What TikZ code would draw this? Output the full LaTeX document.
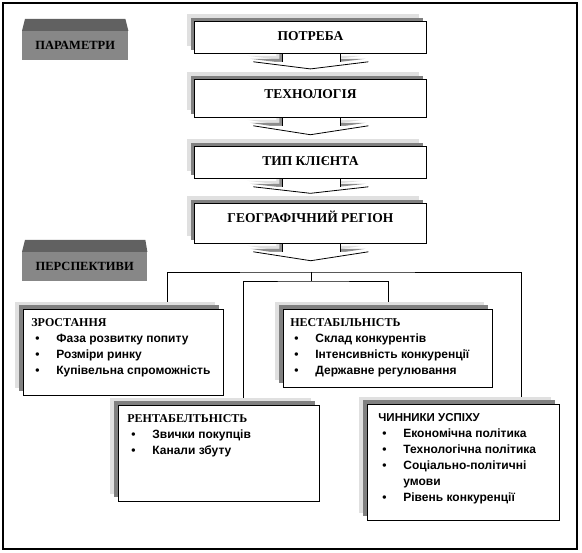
\documentclass[tikz,border=0pt]{standalone}
\usepackage{fontspec}
\setmainfont{Liberation Serif}
\setsansfont{Liberation Sans}
\usetikzlibrary{calc,shadows,backgrounds}

% bullet line inside a list box
\newcommand{\itm}[1]{\par\hangindent=25pt\hangafter=1\noindent\makebox[25pt][l]{\hspace{4pt}\textbullet}#1}
% wide down arrow between two blocks
\newcommand{\flowarrow}[2]{%
  \coordinate (sl) at ([xshift=-28pt]#1.south);
  \coordinate (sr) at ([xshift=30pt]#1.south);
  \coordinate (wl) at ([xshift=-57pt,yshift=-8pt]#1.south);
  \coordinate (wr) at ([xshift=58pt,yshift=-8pt]#1.south);
  \coordinate (tip) at ($(#1.south)!0.6!(#2)$);
  \fill[black!12,transform canvas={xshift=-6pt,yshift=6pt}] (sl) |- (wl) -- (tip) -- (wr) -| (sr) -- cycle;
  \fill[black!45,transform canvas={xshift=-3pt,yshift=3pt}] (sl) |- (wl) -- (tip) -- (wr) -| (sr) -- cycle;
  \fill[white] (sl) |- (wl) -- (tip) -- (wr) -| (sr) -- cycle;
  \draw[line width=0.8pt] (sl) -- (sl |- wl);
  \draw[line width=0.8pt] (wl) -- (tip) -- (wr);
  \draw[line width=0.8pt] (sr) -- (sr |- wr);
}

\begin{document}
\begin{tikzpicture}[x=1pt, y=-1pt,
    block/.style={draw, line width=0.8pt, fill=white, anchor=north west, minimum width=232pt, inner sep=0pt, text height=19pt, font=\fontsize{13.5}{16}\selectfont\bfseries,
      general shadow={fill=black!12, shadow xshift=-7pt, shadow yshift=7pt},
      general shadow={fill=black!50, shadow xshift=-3.5pt, shadow yshift=3.5pt}},
    listbox/.style={draw, line width=0.8pt, fill=white, anchor=north west, inner ysep=0pt, font=\fontsize{12}{16}\selectfont\sffamily\bfseries,
      general shadow={fill=black!12, shadow xshift=-8pt, shadow yshift=7pt},
      general shadow={fill=black!50, shadow xshift=-4pt, shadow yshift=4pt}},
    tag/.style={fill=black!47, anchor=north west, minimum height=29pt, inner sep=0pt, font=\fontsize{12.5}{14}\selectfont\bfseries},
    wire/.style={draw, line width=0.8pt}
]
\useasboundingbox (0,0) rectangle (582,553);
\draw[line width=1.2pt] (3,3) rectangle (577,549);

% parameters
\node[tag, minimum width=106pt] (param) at (22,31) {ПАРАМЕТРИ};
\fill[black!62] (param.north west) -- ([xshift=3pt,yshift=12pt]param.north west) -- ([xshift=-3pt,yshift=12pt]param.north east) -- (param.north east) -- cycle;

\node[block, minimum height=32pt, text depth=13pt] (potreba) at (194,21) {ПОТРЕБА};
\node[block, minimum height=38pt, text depth=19pt] (tekhn) at (194,79) {ТЕХНОЛОГІЯ};
\node[block, minimum height=32pt, text depth=13pt] (klient) at (194,146) {ТИП КЛІЄНТА};
\node[block, minimum height=40pt, text depth=21pt] (region) at (194,203) {ГЕОГРАФІЧНИЙ РЕГІОН};

% perspectives
\node[tag, minimum width=125pt] (persp) at (22,252) {ПЕРСПЕКТИВИ};
\fill[black!62] (persp.north west) -- ([xshift=3pt,yshift=12pt]persp.north west) -- ([xshift=-2pt,yshift=12pt]persp.north east) -- (persp.north east) -- cycle;

\node[listbox, inner xsep=8pt] (zrost) at (23,309) {\parbox[t][86pt][t]{184pt}{\raggedright
  \rule{0pt}{17pt}{\rmfamily\fontsize{12}{16}\selectfont ЗРОСТАННЯ}
  \itm{Фаза розвитку попиту}\itm{Розміри ринку}\itm{Купівельна спроможність}}};
\node[listbox, inner xsep=7pt] (nestab) at (283,309) {\parbox[t][78pt][t]{195pt}{\raggedright
  \rule{0pt}{17pt}{\rmfamily\fontsize{12}{16}\selectfont НЕСТАБІЛЬНІСТЬ}
  \itm{Склад конкурентів}\itm{Інтенсивність конкуренції}\itm{Державне регулювання}}};
\node[listbox, inner xsep=9pt] (rentab) at (118,405) {\parbox[t][96pt][t]{183pt}{\raggedright
  \rule{0pt}{17pt}{\rmfamily\fontsize{12}{16}\selectfont РЕНТАБЕЛТЬНІСТЬ}
  \itm{Звички покупців}\itm{Канали збуту}}};
\node[listbox, inner xsep=11pt] (chynnyky) at (367,404) {\parbox[t][116pt][t]{170pt}{\raggedright
  \rule{0pt}{17pt}{\fontsize{11.5}{16}\selectfont ЧИННИКИ УСПІХУ}
  \itm{Економічна політика}\itm{Технологічна політика}\itm{Соціально-політичні\newline умови}\itm{Рівень конкуренції}}};

\coordinate (junc) at (311,272);
\coordinate (ljunc) at (311,281);

\begin{scope}[on background layer]
\flowarrow{potreba}{tekhn.north}
\flowarrow{tekhn}{klient.north}
\flowarrow{klient}{region.north}
\flowarrow{region}{junc}
\end{scope}

\draw[wire] ([xshift=44pt,yshift=7pt]zrost.north) |- (junc) -| ([xshift=58pt,yshift=7pt]chynnyky.north);
\draw[wire] (junc) -- (ljunc);
\draw[wire] ([xshift=24.5pt,yshift=7pt]rentab.north) |- (ljunc) -| ([yshift=7pt]nestab.north);
\end{tikzpicture}
\end{document}
